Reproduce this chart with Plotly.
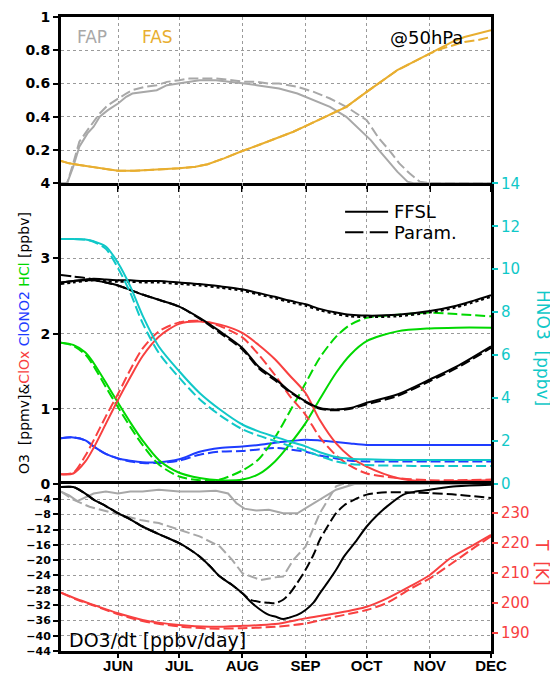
import plotly.graph_objects as go

# ---------------- x axis (day of year) ----------------
month_days = [152, 182, 213, 244, 274, 305, 335]
month_labels = ["JUN", "JUL", "AUG", "SEP", "OCT", "NOV", "DEC"]
x_range = [124, 335]

# ---------------- top panel: FAP / FAS ----------------
fap_ffsl_day = [124, 127, 130, 133, 137, 140, 143, 147, 152, 156, 159, 165, 171, 176, 182, 187, 192, 200, 208, 214, 220, 226, 231, 240, 248, 256, 264, 270, 276, 280, 284, 289, 294, 297, 335]
fap_ffsl = [0.0, 0.0, 0.10, 0.22, 0.30, 0.34, 0.40, 0.44, 0.48, 0.52, 0.54, 0.55, 0.56, 0.59, 0.60, 0.61, 0.62, 0.62, 0.61, 0.60, 0.59, 0.58, 0.57, 0.54, 0.50, 0.46, 0.40, 0.33, 0.26, 0.20, 0.14, 0.07, 0.01, 0.0, 0.0]
fap_param_day = [124, 127, 130, 133, 137, 140, 143, 147, 152, 156, 159, 165, 171, 176, 182, 187, 192, 200, 208, 214, 220, 226, 231, 240, 248, 256, 264, 269, 274, 280, 285, 290, 295, 300, 305, 335]
fap_param = [0.0, 0.0, 0.12, 0.25, 0.32, 0.37, 0.42, 0.47, 0.51, 0.54, 0.56, 0.58, 0.59, 0.61, 0.62, 0.63, 0.63, 0.63, 0.62, 0.61, 0.61, 0.60, 0.60, 0.58, 0.55, 0.51, 0.46, 0.42, 0.38, 0.27, 0.20, 0.12, 0.06, 0.01, 0.0, 0.0]
fas_day = [124, 128, 133, 138, 142, 147, 152, 160, 168, 175, 182, 190, 196, 204, 212, 221, 230, 238, 245, 255, 264, 274, 282, 289, 297, 305, 311, 316, 322, 328, 335]
fas_ffsl = [0.134, 0.12, 0.11, 0.10, 0.094, 0.085, 0.075, 0.075, 0.08, 0.085, 0.09, 0.10, 0.115, 0.15, 0.19, 0.23, 0.27, 0.31, 0.35, 0.41, 0.46, 0.55, 0.62, 0.68, 0.73, 0.78, 0.82, 0.85, 0.88, 0.90, 0.92]
fas_param = [0.134, 0.12, 0.11, 0.10, 0.094, 0.085, 0.075, 0.075, 0.08, 0.085, 0.09, 0.10, 0.115, 0.15, 0.19, 0.23, 0.27, 0.31, 0.35, 0.41, 0.46, 0.55, 0.62, 0.68, 0.73, 0.78, 0.81, 0.83, 0.85, 0.86, 0.88]

# ---------------- middle panel: chemistry ----------------
chem_day = [124, 130, 136, 140, 146, 152, 158, 164, 172, 182, 192, 202, 213, 221, 229, 236, 244, 251, 259, 266, 274, 289, 305, 318, 335]
o3_passive = [2.68, 2.70, 2.72, 2.73, 2.72, 2.71, 2.71, 2.70, 2.70, 2.68, 2.66, 2.63, 2.59, 2.54, 2.49, 2.44, 2.39, 2.33, 2.28, 2.25, 2.24, 2.25, 2.30, 2.37, 2.51]
o3_passive_param = [2.66, 2.68, 2.70, 2.71, 2.70, 2.69, 2.69, 2.68, 2.68, 2.66, 2.64, 2.61, 2.57, 2.52, 2.47, 2.42, 2.37, 2.31, 2.26, 2.23, 2.22, 2.23, 2.28, 2.35, 2.49]
o3_ffsl = [2.68, 2.70, 2.71, 2.71, 2.68, 2.64, 2.58, 2.52, 2.45, 2.36, 2.21, 2.03, 1.81, 1.56, 1.40, 1.24, 1.10, 1.01, 0.99, 1.01, 1.08, 1.19, 1.39, 1.56, 1.83]
o3_param = [2.78, 2.76, 2.74, 2.72, 2.68, 2.64, 2.58, 2.52, 2.45, 2.36, 2.20, 2.01, 1.79, 1.54, 1.38, 1.23, 1.09, 1.00, 0.98, 1.00, 1.06, 1.17, 1.37, 1.54, 1.81]
clox_ffsl = [0.13, 0.14, 0.30, 0.48, 0.80, 1.12, 1.42, 1.70, 1.96, 2.13, 2.16, 2.12, 2.01, 1.85, 1.66, 1.45, 1.21, 0.85, 0.54, 0.36, 0.23, 0.08, 0.03, 0.04, 0.05]
clox_param = [0.13, 0.15, 0.38, 0.58, 0.90, 1.20, 1.52, 1.80, 2.03, 2.15, 2.17, 2.10, 1.95, 1.72, 1.45, 1.18, 0.92, 0.62, 0.38, 0.24, 0.14, 0.08, 0.05, 0.05, 0.06]
clono2_ffsl = [0.61, 0.62, 0.58, 0.50, 0.40, 0.34, 0.31, 0.29, 0.29, 0.33, 0.43, 0.48, 0.50, 0.52, 0.55, 0.57, 0.59, 0.58, 0.56, 0.54, 0.52, 0.52, 0.52, 0.52, 0.52]
clono2_param = [0.61, 0.62, 0.58, 0.50, 0.40, 0.34, 0.30, 0.28, 0.28, 0.31, 0.39, 0.43, 0.44, 0.46, 0.48, 0.46, 0.43, 0.38, 0.34, 0.31, 0.30, 0.30, 0.30, 0.30, 0.30]
hcl_ffsl = [1.88, 1.85, 1.75, 1.61, 1.35, 1.08, 0.82, 0.58, 0.32, 0.15, 0.08, 0.05, 0.06, 0.13, 0.30, 0.52, 0.81, 1.13, 1.48, 1.72, 1.90, 2.03, 2.07, 2.08, 2.08]
hcl_param = [1.88, 1.84, 1.72, 1.57, 1.29, 1.02, 0.76, 0.52, 0.26, 0.10, 0.05, 0.06, 0.18, 0.33, 0.62, 0.95, 1.34, 1.68, 1.96, 2.12, 2.21, 2.25, 2.28, 2.26, 2.23]
hno3_ffsl = [11.41, 11.41, 11.38, 11.30, 11.06, 10.29, 9.20, 7.85, 6.40, 5.25, 4.24, 3.47, 2.77, 2.45, 2.20, 1.98, 1.75, 1.48, 1.26, 1.18, 1.15, 1.12, 1.12, 1.12, 1.12]
hno3_param = [11.41, 11.41, 11.38, 11.28, 10.95, 10.05, 8.90, 7.50, 6.10, 4.95, 3.95, 3.20, 2.55, 2.25, 2.00, 1.78, 1.55, 1.30, 1.05, 0.93, 0.88, 0.85, 0.84, 0.84, 0.84]

# ---------------- bottom panel: DO3/dt and T ----------------
do3_day = [124, 130, 135, 140, 146, 152, 158, 164, 172, 182, 187, 192, 197, 202, 208, 213, 217, 222, 226, 229, 233, 236, 240, 244, 248, 251, 255, 259, 263, 268, 274, 279, 284, 292, 298, 305, 318, 335]
do3_ffsl = [-0.8, -0.8, -2.2, -4.1, -5.8, -7.7, -9.3, -11.2, -13.2, -15.6, -17.2, -19.1, -21.6, -24.4, -26.6, -28.8, -31.0, -33.2, -34.5, -34.9, -35.6, -35.2, -34.5, -33.2, -31.2, -28.8, -25.8, -22.6, -19.0, -15.6, -11.2, -8.3, -5.9, -2.8, -2.0, -1.5, -0.6, -0.2]
do3_param = [-0.8, -0.8, -2.2, -4.1, -5.8, -7.7, -9.3, -11.2, -13.2, -15.6, -17.2, -19.1, -21.6, -24.4, -26.6, -28.8, -30.5, -31.1, -31.3, -31.4, -30.5, -29.0, -26.0, -22.6, -18.5, -14.7, -11.0, -7.7, -5.6, -4.1, -2.8, -2.4, -2.2, -2.2, -2.3, -2.4, -2.8, -3.7]
do3_fap_day = [124, 128, 132, 136, 140, 146, 152, 158, 164, 172, 182, 192, 200, 206, 210, 214, 220, 226, 233, 240, 244, 251, 259, 268, 335]
do3_fap_ffsl = [-2.0, -3.0, -4.5, -3.5, -2.5, -2.0, -2.5, -2.0, -2.0, -1.5, -2.0, -2.0, -1.8, -2.5, -5.0, -6.5, -7.0, -6.8, -7.7, -7.7, -6.4, -4.1, -1.5, 0.0, 0.0]
do3_fap_param_day = [124, 130, 138, 145, 152, 163, 172, 182, 192, 202, 208, 213, 222, 229, 233, 238, 244, 251, 259, 262, 335]
do3_fap_param = [-2.0, -4.1, -6.0, -7.0, -8.1, -9.5, -10.3, -12.0, -13.8, -16.5, -20.0, -23.5, -25.3, -24.6, -24.4, -20.0, -16.5, -7.7, -0.6, 0.0, 0.0]
t_day = [124, 132, 140, 152, 164, 182, 197, 213, 229, 244, 259, 274, 284, 295, 305, 315, 325, 335]
t_ffsl = [203.4, 201.2, 199.3, 196.5, 194.3, 192.6, 192.0, 192.3, 192.9, 194.8, 196.5, 198.7, 201.5, 205.4, 209.3, 214.9, 218.8, 222.7]
t_param = [203.4, 201.0, 199.1, 196.2, 193.9, 192.1, 191.4, 191.5, 192.0, 193.1, 195.4, 197.6, 200.0, 204.5, 208.2, 212.8, 217.6, 222.2]

# ---------------- styling ----------------
GRAY = "#A8A8A8"
ORANGE = "#E8AE30"
CYAN = "#10C8C8"
RED = "#F84040"
GREEN = "#00D800"
BLUE = "#1E3CFF"
BLACK = "#000000"
DASH = "10px,4px"
LW = 2

fig = go.Figure()

def add(x, y, color, xa, ya, dash="solid", shape="linear"):
    fig.add_trace(go.Scatter(x=x, y=y, mode="lines", xaxis=xa, yaxis=ya,
                             line=dict(color=color, width=LW, dash=dash, shape=shape, smoothing=0.8),
                             hoverinfo="skip", showlegend=False))

# top
add(fap_param_day, fap_param, GRAY, "x", "y", DASH)
add(fap_ffsl_day, fap_ffsl, GRAY, "x", "y")
add(fas_day, fas_param, ORANGE, "x", "y", DASH)
add(fas_day, fas_ffsl, ORANGE, "x", "y")

# middle
add(chem_day, hno3_param, CYAN, "x2", "y3", DASH, "spline")
add(chem_day, hno3_ffsl, CYAN, "x2", "y3", "solid", "spline")
add(chem_day, clono2_param, BLUE, "x2", "y2", DASH, "spline")
add(chem_day, clono2_ffsl, BLUE, "x2", "y2", "solid", "spline")
add(chem_day, hcl_param, GREEN, "x2", "y2", DASH, "spline")
add(chem_day, hcl_ffsl, GREEN, "x2", "y2", "solid", "spline")
add(chem_day, clox_param, RED, "x2", "y2", DASH, "spline")
add(chem_day, clox_ffsl, RED, "x2", "y2", "solid", "spline")
add(chem_day, o3_passive_param, BLACK, "x2", "y2", "dot", "spline")
add(chem_day, o3_passive, BLACK, "x2", "y2", "solid", "spline")
add(chem_day, o3_param, BLACK, "x2", "y2", DASH, "spline")
add(chem_day, o3_ffsl, BLACK, "x2", "y2", "solid", "spline")

# bottom
add(do3_fap_param_day, do3_fap_param, GRAY, "x3", "y4", DASH)
add(do3_fap_day, do3_fap_ffsl, GRAY, "x3", "y4")
add(t_day, t_param, RED, "x3", "y5", DASH, "spline")
add(t_day, t_ffsl, RED, "x3", "y5", "solid", "spline")
add(do3_day, do3_param, BLACK, "x3", "y4", DASH, "spline")
add(do3_day, do3_ffsl, BLACK, "x3", "y4", "solid", "spline")

TICKFONT = dict(family="DejaVu Sans", size=14, color="black", weight="bold")
GRID = dict(showgrid=True, gridcolor="#9A9A9A", griddash="dot", gridwidth=1)
AX = dict(showline=True, linecolor="black", linewidth=3, mirror=True, zeroline=False, automargin=False)

xcommon = dict(range=x_range, tickvals=month_days, **GRID)
fig.update_layout(
    xaxis=dict(domain=[0, 1], anchor="y", showticklabels=False, ticks="outside", ticklen=6,
               tickwidth=2, tickcolor="black", **xcommon, **AX),
    xaxis2=dict(domain=[0, 1], anchor="y2", showticklabels=False, ticks="", showline=False,
                zeroline=False, automargin=False, **xcommon),
    xaxis3=dict(domain=[0, 1], anchor="y4", ticktext=month_labels, ticks="outside", ticklen=4,
                tickwidth=2, tickcolor="black", ticklabelstandoff=-5,
                tickfont=dict(family="Liberation Sans Narrow, Liberation Sans", size=15, color="black", weight="bold"),
                **xcommon, **AX),
)

b1 = 167 / 634
b2 = 467.7 / 634
fig.update_layout(
    yaxis=dict(domain=[b2, 1], anchor="x", range=[0, 1], tickvals=[0.2, 0.4, 0.6, 0.8, 1.0],
               ticktext=["0.2", "0.4", "0.6", "0.8", "1"], ticks="outside", ticklen=5, tickwidth=2,
               tickcolor="black", tickfont=TICKFONT, **GRID, **AX),
    yaxis2=dict(domain=[b1, b2], anchor="x2", range=[0, 4], tickvals=[0, 1, 2, 3, 4],
                ticktext=["0", "1", "2", "3", "4"], ticks="outside", ticklen=5, tickwidth=2,
                tickcolor="black", tickfont=TICKFONT, **GRID, **AX),
    yaxis3=dict(overlaying="y2", side="right", anchor="x2", range=[0, 14],
                tickvals=list(range(0, 15, 2)), ticks="outside", ticklen=6, tickwidth=2,
                tickcolor=CYAN, tickfont=dict(family="DejaVu Sans", size=15, color=CYAN),
                showgrid=False, showline=False, zeroline=False, automargin=False),
    yaxis4=dict(domain=[0, b1], anchor="x3", range=[-44, 0], tickvals=list(range(-44, 1, 4)),
                ticktext=["\u2212" + str(abs(v)) if v != 0 else "" for v in range(-44, 1, 4)],
                ticks="outside", ticklen=5, tickwidth=2, tickcolor="black",
                tickfont=dict(family="DejaVu Sans", size=11, color="black", weight="bold"),
                **GRID, **AX),
    yaxis5=dict(overlaying="y4", side="right", anchor="x3", range=[183.9, 239.7],
                tickvals=[190, 200, 210, 220, 230], ticks="outside", ticklen=6, tickwidth=2,
                tickcolor=RED, tickfont=dict(family="DejaVu Sans", size=15, color=RED),
                showgrid=False, showline=False, zeroline=False, automargin=False),
)

# page offset of 8 px (default body margin) is compensated in the margins below
OFF = 8
W, H = 558 - OFF, 673 - OFF
L, R, T, B = 61 - OFF, 67, 17 - OFF, 22
PW, PH = W - L - R, H - T - B


def px_x(x):
    return (x - OFF - L) / PW


def px_y(y):
    return (H - B - (y - OFF)) / PH


LABELFONT = "DejaVu Sans"
ann = [
    dict(text="FAP", x=130.9, y=0.878, xref="x", yref="y", xanchor="left", yanchor="middle",
         showarrow=False, font=dict(family=LABELFONT, size=17, color=GRAY)),
    dict(text="FAS", x=162.8, y=0.878, xref="x", yref="y", xanchor="left", yanchor="middle",
         showarrow=False, font=dict(family=LABELFONT, size=17, color=ORANGE)),
    dict(text="@50hPa", x=322.4, y=0.878, xref="x", yref="y", xanchor="right", yanchor="middle",
         showarrow=False, font=dict(family=LABELFONT, size=18, color="black")),
    dict(text="FFSL", x=286.4, y=3.62, xref="x2", yref="y2", xanchor="left", yanchor="middle",
         showarrow=False, font=dict(family=LABELFONT, size=18, color="black")),
    dict(text="Param.", x=286.4, y=3.35, xref="x2", yref="y2", xanchor="left", yanchor="middle",
         showarrow=False, font=dict(family=LABELFONT, size=18, color="black")),
    dict(text="DO3/dt [ppbv/day]", x=127.0, y=-41.1, xref="x3", yref="y4", xanchor="left",
         yanchor="middle", showarrow=False, font=dict(family=LABELFONT, size=19, color="black")),
    dict(text=("O3  [ppmv]&amp;<span style='color:" + RED + "'>ClOx</span> "
               "<span style='color:" + BLUE + "'>ClONO2</span> "
               "<span style='color:" + GREEN + "'>HCl</span> [ppbv]"),
         x=px_x(24), y=px_y(343), xref="paper", yref="paper", xanchor="center",
         yanchor="middle", textangle=-90, showarrow=False,
         font=dict(family=LABELFONT, size=14, color="black")),
    dict(text="HNO3  [ppbv]", x=px_x(543), y=px_y(348), xref="paper", yref="paper",
         xanchor="center", yanchor="middle", textangle=90, showarrow=False,
         font=dict(family=LABELFONT, size=17, color=CYAN)),
    dict(text="T  [K]", x=px_x(542), y=px_y(562), xref="paper", yref="paper",
         xanchor="center", yanchor="middle", textangle=90, showarrow=False,
         font=dict(family=LABELFONT, size=17, color=RED)),
]
fig.update_layout(annotations=ann)

# legend line samples
fig.update_layout(shapes=[
    dict(type="line", xref="x2", yref="y2", x0=263.4, x1=284.5, y0=3.62, y1=3.62,
         line=dict(color="black", width=2)),
    dict(type="line", xref="x2", yref="y2", x0=263.4, x1=272.4, y0=3.35, y1=3.35,
         line=dict(color="black", width=2)),
    dict(type="line", xref="x2", yref="y2", x0=275.5, x1=284.5, y0=3.35, y1=3.35,
         line=dict(color="black", width=2)),
])

fig.update_layout(width=W, height=H, margin=dict(l=L, r=R, t=T, b=B, autoexpand=False),
                  paper_bgcolor="white", plot_bgcolor="white", showlegend=False)

fig.write_html("out.html")
